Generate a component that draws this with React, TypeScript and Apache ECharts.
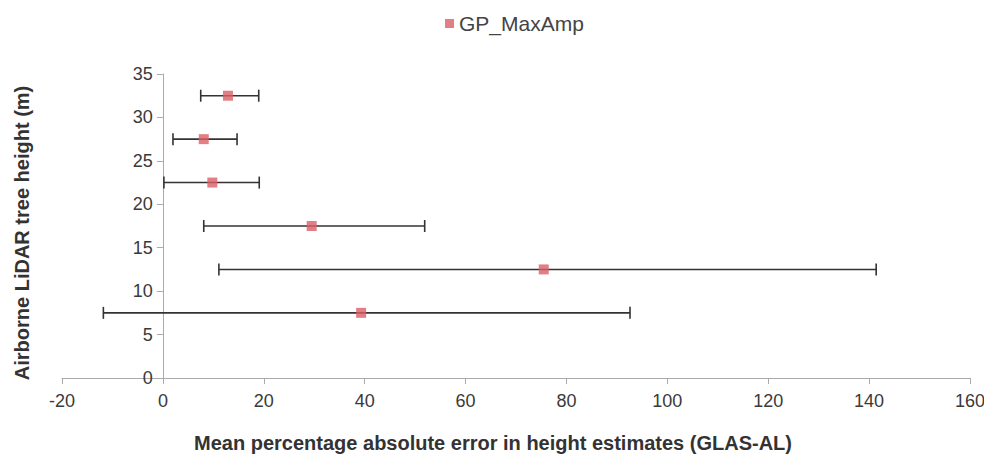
import React, { useEffect, useRef } from "react";
import * as echarts from "echarts";

// Tree height class midpoints (m)
const heights = [32.5, 27.5, 22.5, 17.5, 12.5, 7.5];
// Mean percentage absolute error for each height class
const meanError = [12.9, 8.1, 9.8, 29.5, 75.5, 39.3];
// Error bar extents (low / high)
const errLow = [7.5, 2.0, 0.2, 8.1, 11.1, -11.8];
const errHigh = [19.0, 14.7, 19.1, 51.9, 141.4, 92.6];

const xTicks = { min: -20, max: 160, interval: 20 };
const yTicks = { min: 0, max: 35, interval: 5 };

const font = "'Liberation Sans', Arial, sans-serif";

const WIDTH = 976;
const HEIGHT = 452;
const GRID = { left: 54, right: 14, top: 66, bottom: 82 };

export default function App() {
  const ref = useRef<HTMLDivElement>(null);

  useEffect(() => {
    if (!ref.current) return;
    const chart = echarts.init(ref.current, undefined, { renderer: "svg" });

    const barData = heights.map((h, i) => [errLow[i], errHigh[i], h]);
    const pointData = heights.map((h, i) => [meanError[i], h]);

    // the y axis (with its labels) sits on x = 0, so shift it in from the grid's left edge
    const plotWidth = WIDTH - GRID.left - GRID.right;
    const zeroShift = (plotWidth * (0 - xTicks.min)) / (xTicks.max - xTicks.min);

    chart.setOption({
      animation: false,
      backgroundColor: "#ffffff",
      textStyle: { fontFamily: font },
      legend: {
        top: 0,
        left: 432,
        itemWidth: 9,
        itemHeight: 9,
        itemGap: 7,
        textStyle: { fontSize: 21, color: "#444", fontFamily: font },
        data: [{ name: "GP_MaxAmp", icon: "rect" }],
      },
      grid: { ...GRID, outerBoundsMode: "none" },
      xAxis: {
        type: "value",
        min: xTicks.min,
        max: xTicks.max,
        interval: xTicks.interval,
        name: "Mean percentage absolute error in height estimates (GLAS-AL)",
        nameLocation: "middle",
        nameGap: 55,
        nameTextStyle: {
          fontSize: 20,
          fontWeight: "bold",
          color: "#333",
          fontFamily: font,
          padding: [0, 46, 0, 0],
        },
        axisLine: { onZero: false, lineStyle: { color: "#aaa", width: 1 } },
        axisTick: { show: true, length: 6, lineStyle: { color: "#aaa" } },
        axisLabel: { fontSize: 18, color: "#3a3a3a", margin: 14, fontFamily: font },
        splitLine: { show: false },
      },
      yAxis: {
        type: "value",
        min: yTicks.min,
        max: yTicks.max,
        interval: yTicks.interval,
        offset: -zeroShift,
        name: "Airborne LiDAR tree height (m)",
        nameLocation: "middle",
        nameGap: 131,
        nameTextStyle: {
          fontSize: 20,
          fontWeight: "bold",
          color: "#333",
          fontFamily: font,
          padding: [0, 14, 0, 0],
        },
        axisLine: { show: true, onZero: false, lineStyle: { color: "#aaa", width: 1 } },
        axisTick: { show: true, length: 6, lineStyle: { color: "#aaa" } },
        axisLabel: { fontSize: 18, color: "#3a3a3a", margin: 10, fontFamily: font },
        splitLine: { show: false },
      },
      series: [
        {
          type: "custom",
          name: "errors",
          silent: true,
          z: 2,
          data: barData,
          renderItem: (params: any, api: any) => {
            const lo = api.coord([api.value(0), api.value(2)]);
            const hi = api.coord([api.value(1), api.value(2)]);
            const cap = 6;
            const style = { stroke: "#333", lineWidth: 1.6 };
            return {
              type: "group",
              children: [
                { type: "line", shape: { x1: lo[0], y1: lo[1], x2: hi[0], y2: hi[1] }, style },
                { type: "line", shape: { x1: lo[0], y1: lo[1] - cap, x2: lo[0], y2: lo[1] + cap }, style },
                { type: "line", shape: { x1: hi[0], y1: hi[1] - cap, x2: hi[0], y2: hi[1] + cap }, style },
              ],
            };
          },
        },
        {
          type: "scatter",
          name: "GP_MaxAmp",
          z: 3,
          symbol: "rect",
          symbolSize: 10,
          itemStyle: { color: "#db5f66" },
          data: pointData,
        },
      ],
    });

    return () => chart.dispose();
  }, []);

  return <div ref={ref} style={{ width: WIDTH, height: HEIGHT }} />;
}
